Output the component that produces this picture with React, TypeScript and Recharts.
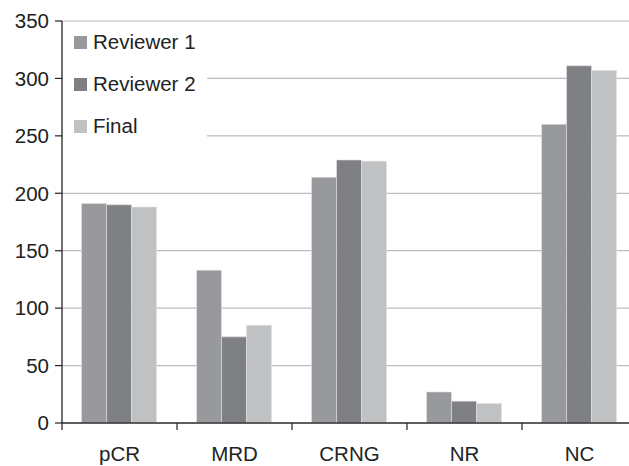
import React from 'react';
import { BarChart, Bar, XAxis, YAxis, CartesianGrid, Legend } from 'recharts';

const categories = ['pCR', 'MRD', 'CRNG', 'NR', 'NC'];
const reviewer1 = [191, 133, 214, 27, 260];
const reviewer2 = [190, 75, 229, 19, 311];
const finalVals = [188, 85, 228, 17, 307];
const seriesNames = ['Reviewer 1', 'Reviewer 2', 'Final'];
const seriesKeys = ['r1', 'r2', 'fin'];
const seriesColors = ['#98999d', '#7f8084', '#c0c1c3'];
const yTicks = [0, 50, 100, 150, 200, 250, 300, 350];

const data = categories.map((c, i) => ({
  name: c,
  r1: reviewer1[i],
  r2: reviewer2[i],
  fin: finalVals[i],
}));

const FONT = '"Liberation Sans", Arial, Helvetica, sans-serif';
const FS = 20.5;
const TEXT = '#222';

const CHART_W = 637;
const CHART_H = 466;
const Y_W = 62;
const BAND = (CHART_W - Y_W) / categories.length;

const XTick = (props: any) => {
  const { x, y, payload } = props;
  return (
    <g>
      <line x1={x - BAND / 2} x2={x - BAND / 2} y1={y} y2={y + 7} stroke={TEXT} strokeWidth={1.2} />
      <text x={x} y={y + 38} textAnchor="middle" fill={TEXT} fontSize={FS} fontFamily={FONT}>
        {payload.value}
      </text>
    </g>
  );
};

const LegendContent = () => (
  <div
    style={{
      background: 'linear-gradient(transparent 2px, #fff 2px)',
      height: 128,
      width: 144,
      fontFamily: FONT,
      fontSize: FS,
      color: TEXT,
    }}
  >
    {seriesNames.map((n, i) => (
      <div key={n} style={{ height: 42, display: 'flex', alignItems: 'center', paddingLeft: 11 }}>
        <span style={{ display: 'inline-block', width: 13, height: 13, background: seriesColors[i], marginRight: 6 }} />
        <span>{n}</span>
      </div>
    ))}
  </div>
);

export default function App() {
  return (
    <div style={{ position: 'fixed', left: 0, top: 0, width: 629, height: 466, overflow: 'hidden', background: '#fff' }}>
      <BarChart
        width={CHART_W}
        height={CHART_H}
        data={data}
        margin={{ top: 21, right: 0, bottom: 0, left: 0 }}
        barCategoryGap="17%"
        barGap={0}
      >
        <CartesianGrid vertical={false} stroke="#bdbdbd" strokeWidth={1.2} />
        <XAxis
          dataKey="name"
          height={CHART_H - 21 - 402}
          tickLine={false}
          tickSize={0}
          tickMargin={0}
          axisLine={{ stroke: '#333', strokeWidth: 1.3 }}
          tick={<XTick />}
          interval={0}
        />
        <YAxis
          width={Y_W}
          domain={[0, 350]}
          ticks={yTicks}
          interval={0}
          tickSize={7}
          tickMargin={6}
          axisLine={{ stroke: TEXT, strokeWidth: 1.3 }}
          tickLine={{ stroke: TEXT, strokeWidth: 1.2 }}
          tick={{ fill: TEXT, fontSize: FS, fontFamily: FONT }}
        />
        <Legend
          layout="vertical"
          align="center"
          verticalAlign="middle"
          wrapperStyle={{ left: 63, top: 21, width: 144, height: 128 }}
          content={<LegendContent />}
        />
        {seriesKeys.map((k, i) => (
          <Bar
            key={k}
            dataKey={k}
            name={seriesNames[i]}
            fill={seriesColors[i]}
            stroke="#e2e2e2"
            strokeWidth={0.6}
            isAnimationActive={false}
          />
        ))}
      </BarChart>
    </div>
  );
}
